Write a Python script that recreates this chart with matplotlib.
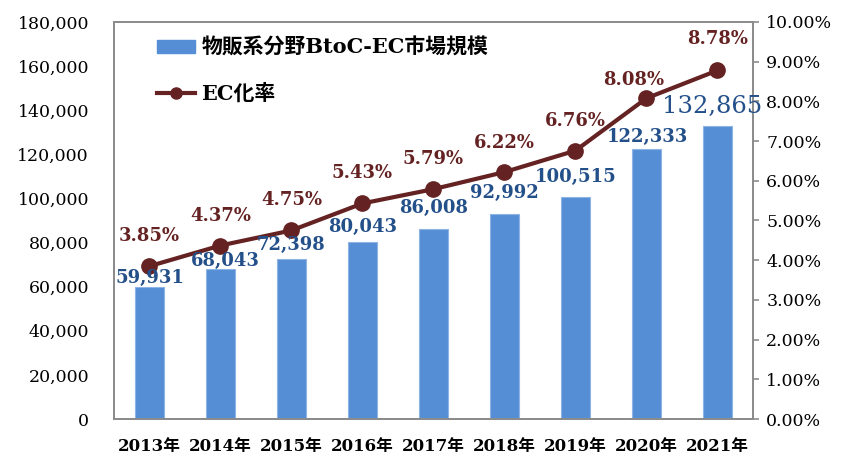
import matplotlib
matplotlib.use("Agg")
import matplotlib.pyplot as plt
from matplotlib.ticker import FuncFormatter
from matplotlib.patches import Patch
from matplotlib.lines import Line2D

# data
years = ["2013年", "2014年", "2015年", "2016年", "2017年",
         "2018年", "2019年", "2020年", "2021年"]
market_size = [59931, 68043, 72398, 80043, 86008, 92992, 100515, 122333, 132865]
ec_rate = [3.85, 4.37, 4.75, 5.43, 5.79, 6.22, 6.76, 8.08, 8.78]
bar_label = "物販系分野BtoC-EC市場規模"
line_label = "EC化率"

FONT = ["DejaVu Serif", "Noto Sans CJK JP"]
plt.rcParams["font.family"] = FONT

BAR_C = "#558ED5"
LINE_C = "#652222"
LABEL_BLUE = "#24508A"
SPINE_C = "#8C8C8C"

fig = plt.figure(figsize=(8.66, 4.71), dpi=100)
ax = fig.add_axes([0.1316, 0.1104, 0.7379, 0.8429])
ax2 = ax.twinx()

x = list(range(len(years)))
ax.bar(x, market_size, width=0.41, color=BAR_C, edgecolor="#8DB4E4",
       linewidth=0.8, zorder=2)
ax.set_xlim(-0.5, len(years) - 0.5)
ax.set_ylim(0, 180000)
ax.set_yticks(range(0, 180001, 20000))
ax.yaxis.set_major_formatter(FuncFormatter(lambda v, p: f"{int(v):,}"))
ax.tick_params(axis="y", length=0, pad=18, labelsize=12.5)
ax.set_xticks(x)
ax.set_xticklabels(years, fontweight="bold", fontsize=12)
ax.tick_params(axis="x", length=0, pad=14)

ax2.plot(x, ec_rate, color=LINE_C, lw=3, marker="o", ms=11, zorder=3)
ax2.set_ylim(0, 10)
ax2.set_yticks(range(0, 11))
ax2.yaxis.set_major_formatter(FuncFormatter(lambda v, p: f"{v:.2f}%"))
ax2.tick_params(axis="y", length=4.5, width=1.2, color=SPINE_C, pad=5,
                labelsize=12.5, direction="out")

for a in (ax, ax2):
    for s in a.spines.values():
        s.set_color(SPINE_C)
        s.set_linewidth(1.4)

# bar value labels (offsets in pixels)
bar_off = [(0, 9), (5, 8), (0, 14), (0, 15), (0, 21), (0, 21), (0, 20), (1, 12), (-5, 19)]
for i, v in enumerate(market_size):
    last = i == len(market_size) - 1
    ax2.annotate(f"{v:,}", xy=(x[i], v / 18000), xytext=bar_off[i],
                 textcoords="offset pixels", ha="center", va="center",
                 color=LABEL_BLUE,
                 fontsize=17.5 if last else 13,
                 fontweight="normal" if last else "bold", zorder=4)

# rate labels
rate_off = [(0, 30), (0, 30), (0, 30), (0, 30), (0, 30), (0, 29), (0, 30), (-13, 18), (0, 31)]
for i, v in enumerate(ec_rate):
    ax2.annotate(f"{v:.2f}%", xy=(x[i], v), xytext=rate_off[i],
                 textcoords="offset pixels", ha="center", va="center",
                 color=LINE_C, fontsize=13, fontweight="bold", zorder=4)

handles = [Patch(color=BAR_C), Line2D([], [], color=LINE_C, lw=3, marker="o", ms=8)]
ax2.legend(handles, [bar_label, line_label], loc="upper left",
           bbox_to_anchor=(0.067, 0.96), frameon=False, borderpad=0,
           borderaxespad=0,
           prop={"family": FONT, "weight": "bold", "size": 15},
           handlelength=1.85, handleheight=0.6, labelspacing=1.25, handletextpad=0.3)

fig.savefig("out.png", dpi=100)
